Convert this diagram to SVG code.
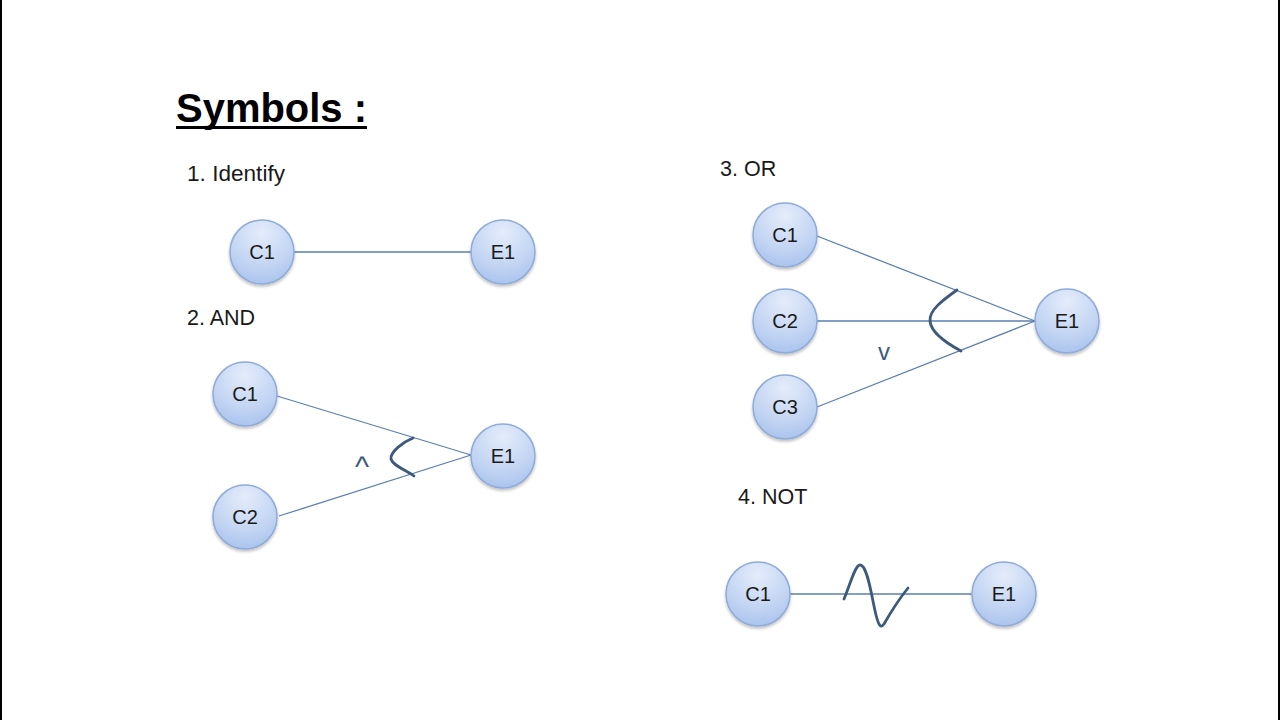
<svg xmlns="http://www.w3.org/2000/svg" width="1280" height="720" viewBox="0 0 1280 720">
<defs>
<radialGradient id="nodeFill" cx="0.5" cy="0.2" r="0.85">
<stop offset="0" stop-color="#e4ecfa"/>
<stop offset="0.6" stop-color="#c3d5f3"/>
<stop offset="1" stop-color="#a7c1ec"/>
</radialGradient>
<filter id="sh" x="-20%" y="-20%" width="140%" height="150%">
<feGaussianBlur in="SourceAlpha" stdDeviation="1.5"/>
<feOffset dy="2" result="b"/>
<feComponentTransfer><feFuncA type="linear" slope="0.25"/></feComponentTransfer>
<feMerge><feMergeNode/><feMergeNode in="SourceGraphic"/></feMerge>
</filter>
</defs>
<style>
.node circle{fill:url(#nodeFill);stroke:#8fabd8;stroke-width:1.5;filter:url(#sh)}
.node text{font-family:"Liberation Sans",Arial,sans-serif;font-size:20px;fill:#1a1a1a;text-anchor:middle;dominant-baseline:central}
.edge{stroke:#5a80b0;stroke-width:1.3;fill:none}
.sym{stroke:#3d5a7d;stroke-width:2.8;fill:none;stroke-linecap:round}
.lbl{font-family:"Liberation Sans",Arial,sans-serif;font-size:21.5px;fill:#1a1a1a}
.op{font-family:"Liberation Sans",Arial,sans-serif;fill:#3d5a7d;text-anchor:middle}
</style>
<rect width="1280" height="720" fill="#ffffff"/>
<rect x="0" y="0" width="2" height="720" fill="#000"/>
<rect x="1278" y="0" width="2" height="720" fill="#000"/>

<g id="title">
<text x="176" y="122" font-family="'Liberation Sans',Arial,sans-serif" font-size="40" font-weight="bold" fill="#000" textLength="191" lengthAdjust="spacingAndGlyphs">Symbols :</text>
<rect x="176" y="126" width="191" height="3" fill="#000"/>
</g>

<g id="labels">
<text class="lbl" x="187" y="181" textLength="98" lengthAdjust="spacingAndGlyphs">1. Identify</text>
<text class="lbl" x="187" y="325">2. AND</text>
<text class="lbl" x="720" y="176">3. OR</text>
<text class="lbl" x="738" y="504">4. NOT</text>
</g>

<g id="connectors">
<line class="edge" x1="294" y1="252" x2="471" y2="252"/>
<line class="edge" x1="277" y1="396" x2="471" y2="455"/>
<line class="edge" x1="279" y1="516" x2="471" y2="455"/>
<line class="edge" x1="817" y1="236" x2="1035" y2="321"/>
<line class="edge" x1="817" y1="321" x2="1035" y2="321"/>
<line class="edge" x1="817" y1="407" x2="1035" y2="321"/>
<line class="edge" x1="790" y1="594" x2="972" y2="594"/>
</g>

<g id="symbols">
<path class="sym" d="M413 438 C403 442 390 452 391 459 C393 466 406 470 414 476"/>
<text class="op" x="362" y="477" font-size="30">^</text>
<path class="sym" d="M957 290 C943 300 929 310 930 321 C931 333 948 344 961 351"/>
<text class="op" x="884" y="360" font-size="24">v</text>
<path class="sym" d="M844 599 C850 585 855 565 860 565 C868 565 872 600 876 615 C879 627 881 628 884 624 C892 610 900 598 908 588"/>
</g>

<g id="identify-c1" class="node"><circle cx="262" cy="252" r="32"/><text x="262" y="252">C1</text></g>
<g id="identify-e1" class="node"><circle cx="503" cy="252" r="32"/><text x="503" y="252">E1</text></g>

<g id="and-c1" class="node"><circle cx="245" cy="394" r="32"/><text x="245" y="394">C1</text></g>
<g id="and-c2" class="node"><circle cx="245" cy="517" r="32"/><text x="245" y="517">C2</text></g>
<g id="and-e1" class="node"><circle cx="503" cy="456" r="32"/><text x="503" y="456">E1</text></g>

<g id="or-c1" class="node"><circle cx="785" cy="235" r="32"/><text x="785" y="235">C1</text></g>
<g id="or-c2" class="node"><circle cx="785" cy="321" r="32"/><text x="785" y="321">C2</text></g>
<g id="or-c3" class="node"><circle cx="785" cy="407" r="32"/><text x="785" y="407">C3</text></g>
<g id="or-e1" class="node"><circle cx="1067" cy="321" r="32"/><text x="1067" y="321">E1</text></g>

<g id="not-c1" class="node"><circle cx="758" cy="594" r="32"/><text x="758" y="594">C1</text></g>
<g id="not-e1" class="node"><circle cx="1004" cy="594" r="32"/><text x="1004" y="594">E1</text></g>
</svg>
